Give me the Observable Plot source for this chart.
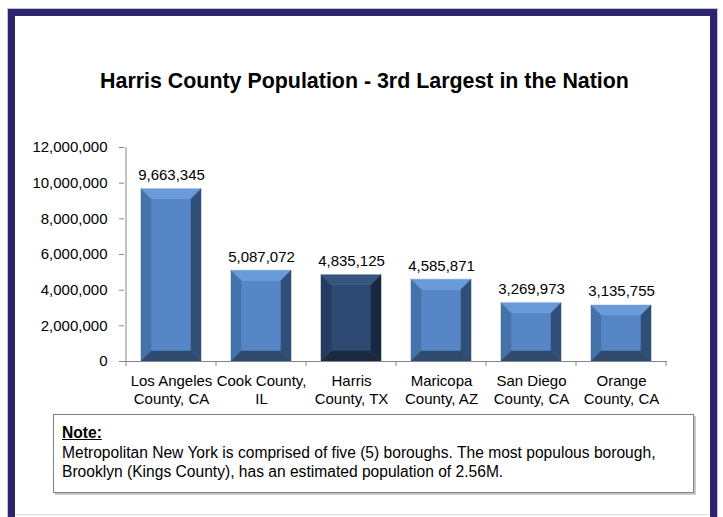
<!DOCTYPE html>
<html>
<head>
<meta charset="utf-8">
<script src="https://cdn.jsdelivr.net/npm/d3@7"></script>
<script src="https://cdn.jsdelivr.net/npm/@observablehq/plot@0.6"></script>
<style>
  html, body { margin: 0; padding: 0; background: #fff; }
  body { width: 723px; height: 517px; position: relative; overflow: hidden; font-family: "Liberation Sans", Arial, sans-serif; }
  #outline { position: absolute; left: 7px; top: 8px; width: 711px; height: 509px; box-sizing: border-box; border: 1px solid #c4c0e0; border-bottom: none; }
  #frame { position: absolute; left: 8px; top: 9px; width: 709px; height: 508px; box-sizing: border-box; border: 7px solid #2d2470; border-bottom: none; }
  #bottomline { position: absolute; left: 15px; top: 514px; width: 695px; height: 1px; background: #dcd9f0; }
  #title { position: absolute; left: 0; top: 68px; width: 729px; text-align: center; font: bold 21.4px "Liberation Sans", Arial, sans-serif; line-height: 27px; color: #000; }
  #chart { position: absolute; left: 0; top: 130px; }
  #note { position: absolute; left: 53px; top: 414px; width: 641px; height: 79px; box-sizing: border-box; border: 1px solid #7f7f7f; box-shadow: 2px 2px 0 #c8c8c8; padding: 8px 8px; font: 15.6px "Liberation Sans", Arial, sans-serif; line-height: 19.5px; color: #000; }
  #note b { text-decoration: underline; }
</style>
</head>
<body>
<div id="outline"></div>
<div id="frame"></div>
<div id="bottomline"></div>
<div id="title">Harris County Population - 3rd Largest in the Nation</div>
<div id="chart"></div>
<div id="note"><b>Note:</b><br>Metropolitan New York is comprised of five (5) boroughs. The most populous borough,<br>Brooklyn (Kings County), has an estimated population of 2.56M.</div>
<script>
const categories = ["Los Angeles\nCounty, CA", "Cook County,\nIL", "Harris\nCounty, TX", "Maricopa\nCounty, AZ", "San Diego\nCounty, CA", "Orange\nCounty, CA"];
const populations = [9663345, 5087072, 4835125, 4585871, 3269973, 3135755];
const yTicks = [0, 2000000, 4000000, 6000000, 8000000, 10000000, 12000000];
const highlighted = "Harris\nCounty, TX";

const blueShades = {face: "#5686c6", top: "#6a9bd9", left: "#4572aa", right: "#2f4f79", bottom: "#2f4a6f"};
const navyShades = {face: "#2d4971", top: "#36557f", left: "#243c5f", right: "#172840", bottom: "#1b2a41"};

const data = categories.map((name, i) => ({name, value: populations[i]}));
const fmt = d3.format(",");

function bevelBars(index, scales, values, dimensions) {
  const ns = "http://www.w3.org/2000/svg";
  const g = document.createElementNS(ns, "g");
  const bw = scales.x.bandwidth();
  const barW = 60;
  const inset = (bw - barW) / 2;
  const b = 10;
  const y0 = scales.y(0);
  const poly = (pts, fill) => {
    const p = document.createElementNS(ns, "polygon");
    p.setAttribute("points", pts.map(q => q.join(",")).join(" "));
    p.setAttribute("fill", fill);
    p.setAttribute("stroke", fill);
    p.setAttribute("stroke-width", "0.5");
    g.appendChild(p);
  };
  const line = (x1, y1, x2, y2) => {
    const l = document.createElementNS(ns, "line");
    l.setAttribute("x1", x1); l.setAttribute("x2", x2);
    l.setAttribute("y1", y1); l.setAttribute("y2", y2);
    l.setAttribute("stroke", "#868686");
    g.appendChild(l);
  };
  for (const i of index) {
    const d = data[i];
    const c = d.name === highlighted ? navyShades : blueShades;
    const xl = scales.x(d.name) + inset, xr = xl + barW;
    const yt = scales.y(d.value), yb = y0;
    poly([[xl + b, yt + b], [xr - b, yt + b], [xr - b, yb - b], [xl + b, yb - b]], c.face);
    poly([[xl, yt], [xr, yt], [xr - b, yt + b], [xl + b, yt + b]], c.top);
    poly([[xl, yt], [xl + b, yt + b], [xl + b, yb - b], [xl, yb]], c.left);
    poly([[xr, yt], [xr - b, yt + b], [xr - b, yb - b], [xr, yb]], c.right);
    poly([[xl, yb], [xl + b, yb - b], [xr - b, yb - b], [xr, yb]], c.bottom);
  }
  // y axis line
  const x0 = scales.x(categories[0]);
  line(x0, scales.y(yTicks[yTicks.length - 1]), x0, y0);
  // category boundary ticks on the x axis
  const bounds = categories.map(cn => scales.x(cn));
  bounds.push(scales.x(categories[categories.length - 1]) + bw);
  for (const x of bounds) line(x, y0, x, y0 + 5);
  return g;
}

const chart = Plot.plot({
  width: 723,
  height: 280,
  marginTop: 17,
  marginBottom: 49,
  marginLeft: 124,
  marginRight: 56,
  style: {fontFamily: "'Liberation Sans', Arial, sans-serif", fontSize: "15px", color: "#000", background: "transparent"},
  x: {domain: categories, padding: 0, label: null},
  y: {domain: [0, 12000000], label: null},
  marks: [
    Plot.barY(data, {x: "name", y: "value", render: bevelBars}),
    Plot.ruleY([0], {stroke: "#868686"}),
    Plot.axisY({ticks: yTicks, tickFormat: fmt, tickSize: 5, tickPadding: 12, stroke: "#868686", fill: "#000", fontSize: 15, label: null}),
    Plot.axisX({tickSize: 0, tickPadding: 12, fill: "#000", fontSize: 15, lineHeight: 1.2, label: null}),
    Plot.text(data, {x: "name", y: "value", text: d => fmt(d.value), dy: -14, fontSize: 15, fill: "#000"})
  ]
});
document.getElementById("chart").appendChild(chart);
</script>
</body>
</html>
